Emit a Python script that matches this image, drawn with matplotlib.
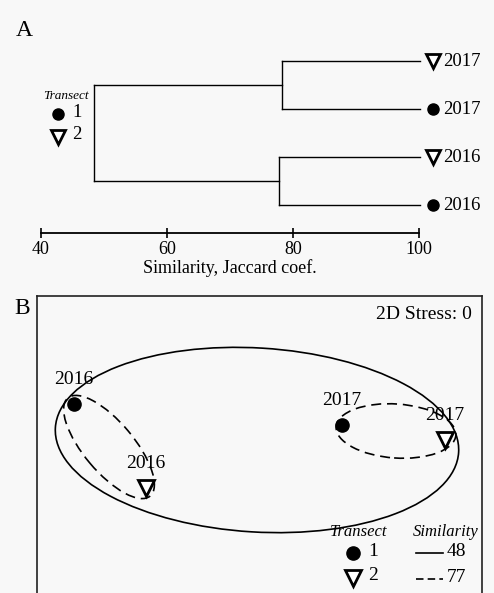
import numpy as np
import matplotlib
matplotlib.use("Agg")
import matplotlib.pyplot as plt
from matplotlib.patches import Ellipse

plt.rcParams['font.family'] = ['Liberation Serif', 'DejaVu Serif']

# --- data: cluster dendrogram (panel A) ---
leaf_years = ["2017", "2017", "2016", "2016"]      # top to bottom
leaf_transect = [2, 1, 2, 1]
merge_top = 78.2       # similarity where the two 2017 samples join
merge_bottom = 77.8    # similarity where the two 2016 samples join
merge_root = 48.4      # similarity where both years join
sim_ticks = [40, 60, 80, 100]

# --- data: nMDS ordination (panel B) ---
mds_years = ["2016", "2016", "2017", "2017"]
mds_transect = [1, 2, 1, 2]
mds_x = [-0.915, -0.555, 0.425, 0.94]
mds_y = [0.18, -0.24, 0.075, 0.0]
stress = 0
# similarity contours: (cx, cy, width, height, angle, level)
contours = [(0.0, 0.0, 2.02, 0.92, -3.5, 48),
            (-0.74, -0.035, 0.64, 0.25, -50, 77),
            (0.695, 0.045, 0.6, 0.27, -4, 77)]

bg = '#f8f8f8'
W, H = 494, 593
fig = plt.figure(figsize=(W / 100, H / 100), dpi=100, facecolor=bg)
dash = (0, (6, 3.5))

def px_box(x0, y0, x1, y1):
    return [x0 / W, 1 - y1 / H, (x1 - x0) / W, (y1 - y0) / H]

def marker_style(t, size):
    if t == 1:
        return dict(marker='o', ms=size, mfc='black', mec='black')
    return dict(marker='v', ms=size + 1.5, mfc='white', mec='black', mew=2)

# ---------------- Panel A ----------------
axA = fig.add_axes(px_box(41, 40, 419, 233))
axA.set_facecolor(bg)
axA.set_xlim(40, 100)
axA.set_ylim(0.417, 4.4375)
leaf_y = [4, 3, 2, 1]

for y in leaf_y[:2]:
    axA.plot([merge_top, 100.2], [y, y], color='black', lw=1, clip_on=False)
for y in leaf_y[2:]:
    axA.plot([merge_bottom, 100.2], [y, y], color='black', lw=1, clip_on=False)
top_mid = np.mean(leaf_y[:2])
bot_mid = np.mean(leaf_y[2:])
axA.plot([merge_top, merge_top], leaf_y[:2], color='black', lw=1)
axA.plot([merge_bottom, merge_bottom], leaf_y[2:], color='black', lw=1)
axA.plot([merge_root, merge_top], [top_mid, top_mid], color='black', lw=1)
axA.plot([merge_root, merge_bottom], [bot_mid, bot_mid], color='black', lw=1)
axA.plot([merge_root, merge_root], [bot_mid, top_mid], color='black', lw=1)

for y, yr, t in zip(leaf_y, leaf_years, leaf_transect):
    axA.plot([102.2], [y], clip_on=False, **marker_style(t, 8))
    axA.text(103.9, y, yr, fontsize=13.5, va='center', ha='left', clip_on=False)

# legend in panel A
axA.text(44.0, 3.28, "Transect", fontsize=9.5, style='italic', ha='center', va='center')
axA.plot([42.7], [2.896], **marker_style(1, 8))
axA.plot([42.7], [2.417], **marker_style(2, 8))
axA.text(45.0, 2.93, "1", fontsize=13.5, va='center', ha='left')
axA.text(45.0, 2.46, "2", fontsize=13.5, va='center', ha='left')

for s in ['left', 'right', 'top']:
    axA.spines[s].set_visible(False)
axA.spines['bottom'].set_linewidth(1.3)
axA.set_yticks([])
axA.set_xticks(sim_ticks)
axA.tick_params(axis='x', direction='inout', length=7, width=1.2, labelsize=13, pad=2)
axA.set_xlabel("Similarity, Jaccard coef.", fontsize=13, labelpad=1)

fig.text(24 / W, 1 - 30 / H, "A", fontsize=17, ha='center', va='center')

# ---------------- Panel B ----------------
axB = fig.add_axes(px_box(37, 296, 482, 603))
axB.set_facecolor(bg)
axB.set_xlim(-1.1, 1.125)
axB.set_ylim(-0.815, 0.72)
axB.set_xticks([])
axB.set_yticks([])
for s in axB.spines.values():
    s.set_linewidth(1.2)
    s.set_color('#222222')

for cx, cy, w, h, ang, lev in contours:
    ls = '-' if lev == 48 else dash
    axB.add_patch(Ellipse((cx, cy), w, h, angle=ang, fill=False,
                          lw=1.2, ls=ls, ec='black'))

for x, y, yr, t in zip(mds_x, mds_y, mds_years, mds_transect):
    axB.plot([x], [y], **marker_style(t, 9.5))
    axB.text(x, y + 0.12, yr, fontsize=14, ha='center', va='center')

axB.text(1.075, 0.625, "2D Stress: %d" % stress, fontsize=14, ha='right', va='center')

# legend in panel B
axB.text(0.51, -0.46, "Transect", fontsize=12, style='italic', ha='center', va='center')
axB.plot([0.48], [-0.565], **marker_style(1, 9.5))
axB.plot([0.48], [-0.69], **marker_style(2, 9.5))
axB.text(0.555, -0.56, "1", fontsize=14, ha='left', va='center')
axB.text(0.555, -0.68, "2", fontsize=14, ha='left', va='center')
axB.text(0.945, -0.46, "Similarity", fontsize=12, style='italic', ha='center', va='center')
axB.plot([0.795, 0.93], [-0.565, -0.565], color='black', lw=1.2)
axB.plot([0.795, 0.93], [-0.695, -0.695], color='black', lw=1.2, ls=(0, (4.5, 2.5)))
axB.text(0.95, -0.56, str(contours[0][5]), fontsize=14, ha='left', va='center')
axB.text(0.95, -0.69, str(contours[1][5]), fontsize=14, ha='left', va='center')

fig.text(22 / W, 1 - 308 / H, "B", fontsize=17, ha='center', va='center')

fig.savefig("out.png", dpi=100, facecolor=bg)
